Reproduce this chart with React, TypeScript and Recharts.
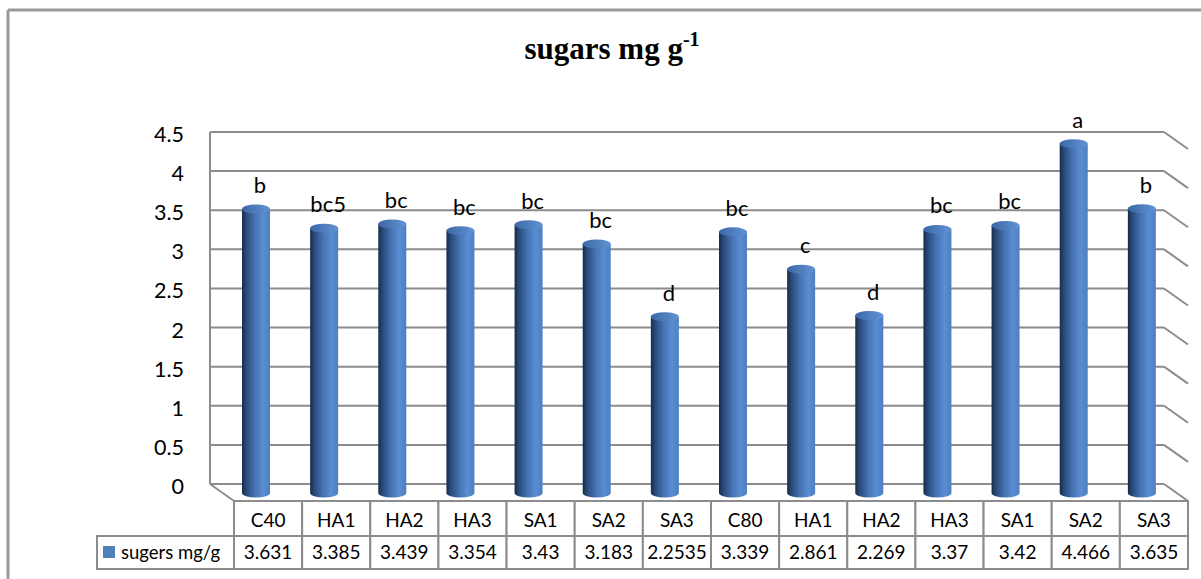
import React from 'react';
import { BarChart, Bar, XAxis, YAxis, CartesianGrid, LabelList } from 'recharts';

const categories = ['C40', 'HA1', 'HA2', 'HA3', 'SA1', 'SA2', 'SA3', 'C80', 'HA1', 'HA2', 'HA3', 'SA1', 'SA2', 'SA3'];
const sugars = [3.631, 3.385, 3.439, 3.354, 3.43, 3.183, 2.2535, 3.339, 2.861, 2.269, 3.37, 3.42, 4.466, 3.635];
const letters = ['b', 'bc5', 'bc', 'bc', 'bc', 'bc', 'd', 'bc', 'c', 'd', 'bc', 'bc', 'a', 'b'];
const yTicks = [0, 0.5, 1, 1.5, 2, 2.5, 3, 3.5, 4, 4.5];
const seriesName = 'sugers mg/g';

const data = categories.map((name, i) => ({ idx: i, name, value: sugars[i], letter: letters[i] }));

const W = 1201;
const H = 579;
const Y_AXIS_W = 234;
const RIGHT = 13;
const X_AXIS_H = 78;
const PLOT_W = W - Y_AXIS_W - RIGHT;
const BAND = PLOT_W / categories.length;

// depth of the fake 3d box
const DX = 24;
const DY = 17;
const BAR_DX = -12;
const BAR_DY = -8;

const GRID = '#8c8c8c';
const FONT = 'Lato, "Noto Sans", sans-serif';

function Cylinder(props: any) {
  const { x, y, width, height } = props;
  const rx = width / 2;
  const ry = 4.5;
  const left = x + BAR_DX;
  const top = y + BAR_DY;
  const bottom = y + height + BAR_DY;
  return (
    <g>
      <defs>
        <linearGradient id="cylBody" x1="0" y1="0" x2="1" y2="0">
          <stop offset="0%" stopColor="#172b4a" />
          <stop offset="15%" stopColor="#284a79" />
          <stop offset="45%" stopColor="#4571b0" />
          <stop offset="75%" stopColor="#5a8dd2" />
          <stop offset="100%" stopColor="#4d7fc1" />
        </linearGradient>
        <linearGradient id="cylTop" x1="0" y1="0" x2="1" y2="0">
          <stop offset="0%" stopColor="#3b67a6" />
          <stop offset="100%" stopColor="#6394d4" />
        </linearGradient>
      </defs>
      <path
        d={`M${left},${top} L${left},${bottom} A${rx},${ry} 0 0 0 ${left + width},${bottom} L${left + width},${top} Z`}
        fill="url(#cylBody)"
      />
      <ellipse cx={left + rx} cy={top} rx={rx} ry={ry} fill="url(#cylTop)" />
    </g>
  );
}

function LetterLabel(props: any) {
  const { x, y, width, index } = props;
  return (
    <text x={x + width / 2 + BAR_DX + 4} y={y + BAR_DY - 16} textAnchor="middle" fontFamily={FONT} fontSize={22} fill="#000">
      {letters[index]}
    </text>
  );
}

function YTick(props: any) {
  const { x, y, payload } = props;
  return (
    <text x={x - 50} y={y - DY + 10} textAnchor="end" fontFamily={FONT} fontSize={21.5} fill="#000">
      {payload.value}
    </text>
  );
}

function TableTick(props: any) {
  const { x, y, index } = props;
  const left = x - BAND / 2;
  const r1 = 35;
  const r2 = 33;
  return (
    <g>
      <rect x={left} y={y} width={BAND} height={r1} fill="#fff" stroke={GRID} strokeWidth={2} />
      <rect x={left} y={y + r1} width={BAND} height={r2} fill="#fff" stroke={GRID} strokeWidth={2} />
      <text x={x} y={y + 26} textAnchor="middle" fontFamily={FONT} fontSize={19} fill="#000">
        {categories[index]}
      </text>
      <text x={x} y={y + r1 + 23} textAnchor="middle" fontFamily={FONT} fontSize={19} fill="#000">
        {String(sugars[index])}
      </text>
      {index === 0 && (
        <g>
          <rect x={97} y={y + r1} width={left - 97} height={r2} fill="#fff" stroke={GRID} strokeWidth={2} />
          <rect x={103} y={y + r1 + 10} width={12} height={12} fill="#4f81bd" />
          <text x={121} y={y + r1 + 23} fontFamily={FONT} fontSize={18.5} fill="#000">
            {seriesName}
          </text>
        </g>
      )}
    </g>
  );
}

const gridLine = (p: any) => {
  const { x1, x2, y1, index } = p;
  return (
    <g key={`h-${index}`}>
      <line x1={x1 - DX} y1={y1 - DY} x2={x2 - DX} y2={y1 - DY} stroke={GRID} strokeWidth={2} />
      <line x1={x2 - DX} y1={y1 - DY} x2={x2} y2={y1} stroke={GRID} strokeWidth={2} />
    </g>
  );
};

const wallLine = (p: any) => {
  const { x1, y1, y2, index } = p;
  return (
    <g key={`v-${index}`}>
      <line x1={x1 - DX} y1={y1 - DY} x2={x1 - DX} y2={y2 - DY} stroke={GRID} strokeWidth={2} />
      <line x1={x1 - DX} y1={y2 - DY} x2={x1} y2={y2} stroke={GRID} strokeWidth={2} />
    </g>
  );
};

export default function App() {
  return (
    <div style={{ position: 'absolute', left: 0, top: 0, width: W, height: H, background: '#fff', overflow: 'hidden' }}>
      <svg width={W} height={H} style={{ position: 'absolute', left: 0, top: 0 }}>
        <line x1={8} y1={10} x2={W} y2={10} stroke="#999" strokeWidth={3} />
        <line x1={8} y1={10} x2={8} y2={H} stroke="#999" strokeWidth={3} />
        <text x={612} y={59} textAnchor="middle" fontFamily='"Liberation Serif", "Times New Roman", serif' fontWeight="bold" fontSize={31} fill="#000">
          sugars mg g<tspan fontSize={20} dy={-13}>-1</tspan>
        </text>
      </svg>
      <div style={{ position: 'absolute', left: 0, top: 0 }}>
        <BarChart width={W} height={H} data={data} margin={{ top: 149, right: RIGHT, bottom: 0, left: 0 }}>
          <CartesianGrid
            horizontal={gridLine}
            vertical={wallLine}
            verticalCoordinatesGenerator={({ offset }: any) => [offset.left]}
          />
          <XAxis dataKey="idx" height={X_AXIS_H} axisLine={false} tickLine={false} tickSize={0} tickMargin={0} interval={0} tick={TableTick} />
          <YAxis domain={[0, 4.5]} ticks={yTicks} width={Y_AXIS_W} axisLine={false} tickLine={false} tickSize={0} tickMargin={0} interval={0} tick={YTick} />
          <Bar dataKey="value" barSize={28} shape={Cylinder} isAnimationActive={false}>
            <LabelList dataKey="letter" content={LetterLabel} />
          </Bar>
        </BarChart>
      </div>
    </div>
  );
}
